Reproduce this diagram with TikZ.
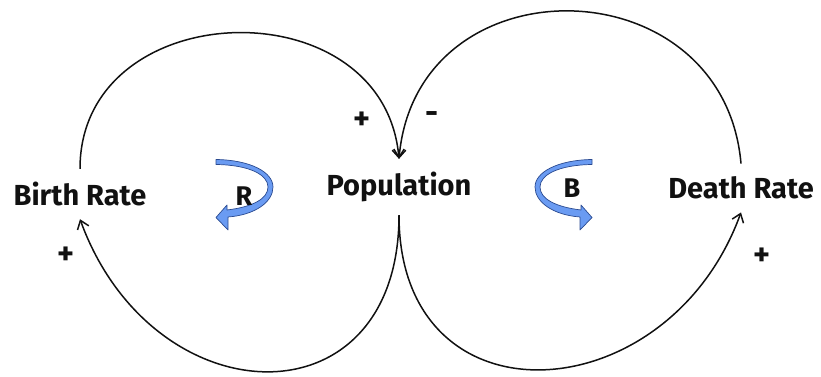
\documentclass[tikz,border=0pt]{standalone}
\usepackage{fontspec}
\setmainfont{Fira Sans}
\usetikzlibrary{arrows.meta,positioning}
\definecolor{ink}{HTML}{111111}
\definecolor{ribbon}{HTML}{6A9BF2}
\definecolor{ribbonline}{HTML}{2A4A90}
\tikzset{
  varbox/.style={inner xsep=2pt, inner ysep=13pt, font=\fontsize{29}{32}\selectfont\bfseries, text=ink},
  signlabel/.style={font=\fontsize{32}{34}\selectfont\bfseries, text=ink, inner sep=0pt},
  looplabel/.style={font=\fontsize{27}{30}\selectfont\bfseries, text=ink, inner sep=0pt},
  link/.style={-{Straight Barb[length=8pt,width=12pt,line width=1.5pt]}, line width=1.5pt, draw=ink},
  loopribbon/.pic={
    \filldraw[fill=ribbon, draw=ribbonline, line width=0.7pt, line join=round]
      (0,27.5) .. controls (34,27) and (57,15) .. (57,0)
      .. controls (57,-15) and (39,-28) .. (12,-30)
      -- (12,-43) -- (0,-30.5) -- (11,-18) -- (11,-23)
      .. controls (36,-20) and (52,-12) .. (52,0)
      .. controls (52,12) and (34,22) .. (0,22.5) -- cycle;
  }
}
\begin{document}
\begin{tikzpicture}[x=1pt,y=1pt]
\useasboundingbox (0,0) rectangle (821,377);
% variables
\node[varbox] (birth) at (80,183) {Birth Rate};
\node[varbox] (pop) at (399,190) {Population};
\node[varbox] (death) at (741,189) {Death Rate};
% loop markers
\pic at (216,190) {loopribbon};
\pic[xscale=-1] at (592,190) {loopribbon};
\node[looplabel] (rloop) at (244,181) {R};
\node[looplabel] (bloop) at (572,189) {B};
% causal links
\draw[link] (birth.north) to[out=90,in=95,looseness=1.4] (pop.north);
\draw[link] (death.north) to[out=95,in=85,looseness=1.5] (pop.north);
\draw[link] (pop.south) to[out=-90,in=-70,looseness=1.7] (birth.south);
\draw[link] (pop.south) to[out=-90,in=-110,looseness=1.6] (death.south);
% polarities
\node[signlabel] (s1) at (362,256) {+};
\node[signlabel] (s2) at (432,259) {-};
\node[signlabel] (s3) at (66,121) {+};
\node[signlabel] (s4) at (762,120) {+};
\end{tikzpicture}
\end{document}
